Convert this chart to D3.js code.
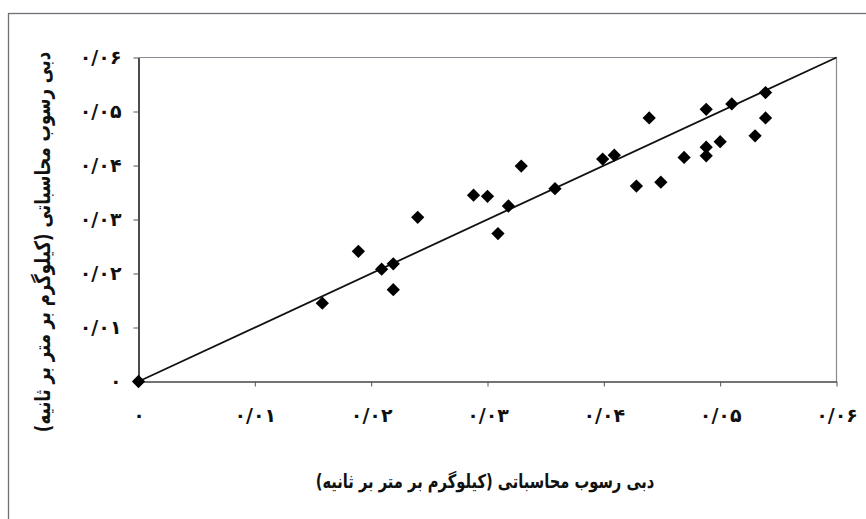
<!DOCTYPE html>
<html>
<head>
<meta charset="utf-8">
<script src="https://cdn.jsdelivr.net/npm/d3@7"></script>
<style>
  body { margin: 0; background: #fff; }
  text { font-family: "DejaVu Sans", sans-serif; font-weight: bold; fill: #111; }
</style>
</head>
<body>
<div id="mainContainer"><svg></svg></div>
<script>
const SVG_WIDTH = 866;
const SVG_HEIGHT = 519;

// measured vs computed sediment discharge (kg/m/s)
const computedX = [0, 0.0158, 0.0189, 0.0209, 0.0219, 0.0219, 0.0240, 0.0288, 0.0300, 0.0309,
  0.0318, 0.0329, 0.0358, 0.0399, 0.0409, 0.0428, 0.0439, 0.0449, 0.0469, 0.0488,
  0.0488, 0.0488, 0.0500, 0.0510, 0.0530, 0.0539, 0.0539];
const measuredY = [0, 0.0145, 0.0241, 0.0208, 0.0218, 0.0170, 0.0304, 0.0345, 0.0343, 0.0274,
  0.0325, 0.0399, 0.0357, 0.0412, 0.0419, 0.0362, 0.0488, 0.0369, 0.0415, 0.0504,
  0.0434, 0.0418, 0.0444, 0.0514, 0.0455, 0.0535, 0.0488];
const lineX = [0, 0.06];
const lineY = [0, 0.06];
const tickValues = [0, 0.01, 0.02, 0.03, 0.04, 0.05, 0.06];
const tickLabels = ["۰", "۰/۰۱", "۰/۰۲", "۰/۰۳", "۰/۰۴", "۰/۰۵", "۰/۰۶"];
const xTitle = "دبی رسوب محاسباتی (کیلوگرم بر متر بر ثانیه)";
const yTitle = "دبی رسوب محاسباتی (کیلوگرم بر متر بر ثانیه)";

const plot = { left: 138.5, right: 836.5, top: 57.5, bottom: 381.5 };

let svg = d3.select('svg')
    .attr('width', SVG_WIDTH)
    .attr('height', SVG_HEIGHT);

// outer chart frame (runs off the right and bottom)
svg.append('rect')
    .attr('x', 8.5).attr('y', 13.5)
    .attr('width', 900).attr('height', 600)
    .attr('fill', 'none')
    .attr('stroke', '#6f6f78')
    .attr('stroke-width', 1.3);

let x = d3.scaleLinear().domain([0, 0.06]).range([plot.left, plot.right]);
let y = d3.scaleLinear().domain([0, 0.06]).range([plot.bottom, plot.top]);

// plot area top and right border
svg.append('path')
    .attr('d', `M${plot.left},${plot.top}H${plot.right}V${plot.bottom}`)
    .attr('fill', 'none')
    .attr('stroke', '#8a8a92')
    .attr('stroke-width', 1.2);

let fmt = (d) => tickLabels[tickValues.indexOf(d)];

let xAxis = svg.append('g')
    .attr('transform', `translate(0,${plot.bottom})`)
    .call(d3.axisBottom(x).tickValues(tickValues).tickFormat(fmt).tickSizeInner(5).tickSizeOuter(0).tickPadding(22));
xAxis.select('.domain').attr('stroke', '#444').attr('stroke-width', 1.5);
xAxis.selectAll('.tick line').attr('stroke', '#555');
xAxis.selectAll('text').attr('font-size', 19).attr('fill', '#111');

let yAxis = svg.append('g')
    .attr('transform', `translate(${plot.left},0)`)
    .call(d3.axisLeft(y).tickValues(tickValues).tickFormat(fmt).tickSizeInner(5).tickSizeOuter(0).tickPadding(12));
yAxis.select('.domain').attr('stroke', '#111').attr('stroke-width', 1.5);
yAxis.selectAll('.tick line').attr('stroke', '#555');
yAxis.selectAll('text').attr('font-size', 19).attr('fill', '#111');

// 1:1 line
svg.append('line')
    .attr('x1', x(lineX[0])).attr('y1', y(lineY[0]))
    .attr('x2', x(lineX[1])).attr('y2', y(lineY[1]))
    .attr('stroke', '#111')
    .attr('stroke-width', 1.8);

// diamonds
let diamond = d3.symbol().type(d3.symbolSquare).size(88);
svg.selectAll('path.pt')
    .data(computedX)
    .enter()
    .append('path')
    .attr('class', 'pt')
    .attr('d', diamond)
    .attr('fill', '#000')
    .attr('transform', (d, i) => `translate(${x(d)},${y(measuredY[i])}) rotate(45)`);

// titles, stretched a bit so the small DejaVu arabic glyphs look closer to the original
svg.append('text')
    .attr('transform', 'translate(485,488) scale(1,1.3)')
    .attr('text-anchor', 'middle')
    .attr('direction', 'rtl')
    .attr('font-size', 14.7)
    .text(xTitle);

svg.append('text')
    .attr('transform', 'translate(50,242) rotate(-90) scale(1,1.3)')
    .attr('text-anchor', 'middle')
    .attr('direction', 'rtl')
    .attr('font-size', 16.5)
    .text(yTitle);
</script>
</body>
</html>
